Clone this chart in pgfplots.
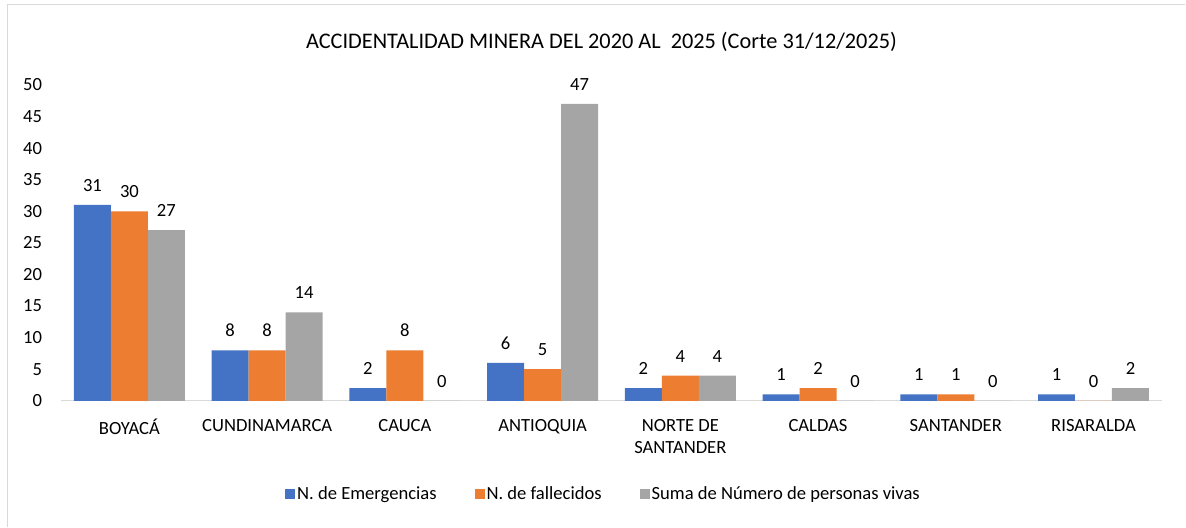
\documentclass[border=0pt]{standalone}
\usepackage{fontspec}
\setmainfont{Carlito}
\usepackage{pgfplots}
\pgfplotsset{compat=1.18}
\definecolor{cblue}{HTML}{4472C4}
\definecolor{corange}{HTML}{ED7D31}
\definecolor{cgray}{HTML}{A5A5A5}
\definecolor{caxis}{HTML}{D9D9D9}
\begin{document}
\begin{tikzpicture}[x=1bp,y=1bp]
\path (0,0) rectangle (1186,-527);
\draw[caxis,line width=1.2bp] (7.5,-527) -- (7.5,-4.5) -- (1186,-4.5);
\begin{axis}[
  at={(60.6bp,-401bp)}, anchor=south west,
  scale only axis, width=1102.4bp, height=316bp,
  ybar=0pt, bar width=37bp,
  xmin=-0.5, xmax=7.5, ymin=0, ymax=50,
  ytick={0,5,...,50},
  xtick={0,...,7},
  xticklabels={BOYACÁ,CUNDINAMARCA,CAUCA,ANTIOQUIA,{NORTE DE\\SANTANDER},CALDAS,SANTANDER,RISARALDA},
  xticklabel style={align=center, font=\fontsize{18.6bp}{22.5bp}\selectfont, anchor=north, yshift=-15bp},
  yticklabel style={font=\fontsize{18.6bp}{22bp}\selectfont, xshift=-15bp},
  /pgf/number format/assume math mode=true,
  major tick length=0pt,
  axis line style={draw=none},
  axis x line*=bottom, axis y line*=left,
  nodes near coords,
  every node near coord/.append style={font=\fontsize{18.6bp}{22bp}\selectfont, color=black, yshift=10bp},
  title={ACCIDENTALIDAD MINERA DEL 2020 AL\ \ 2025 (Corte 31/12/2025)},
  title style={font=\fontsize{22.3bp}{26bp}\selectfont, at={(0.5,1)}, anchor=center, yshift=37bp, xshift=-10bp},
  legend columns=3,
  legend style={draw=none, at={(0.5,0)}, anchor=center, yshift=-93bp, xshift=-8bp, font=\fontsize{18.6bp}{22bp}\selectfont,
    /tikz/every even column/.append style={column sep=36bp}},
  legend image code/.code={\fill[#1] (0bp,-5bp) rectangle (10bp,5bp);},
  clip=false,
]
\draw[caxis, line width=1.2bp] (axis cs:-0.5,0) -- (axis cs:7.5,0);
\addplot[fill=cblue, draw=none] coordinates {(0,31) (1,8) (2,2) (3,6) (4,2) (5,1) (6,1) (7,1)};
\addplot[fill=corange, draw=none] coordinates {(0,30) (1,8) (2,8) (3,5) (4,4) (5,2) (6,1) (7,0)};
\addplot[fill=cgray, draw=none] coordinates {(0,27) (1,14) (2,0) (3,47) (4,4) (5,0) (6,0) (7,2)};
\legend{N. de Emergencias, N. de fallecidos, Suma de Número de personas vivas}
\end{axis}
\end{tikzpicture}
\end{document}
